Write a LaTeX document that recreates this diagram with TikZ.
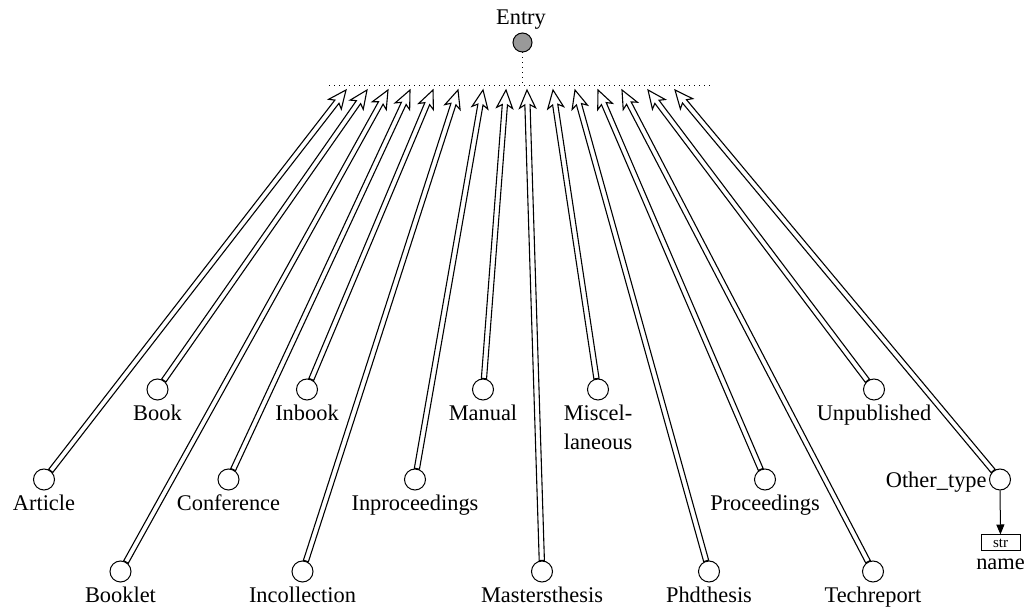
\documentclass[tikz,border=0pt]{standalone}
\usepackage{fontspec}
\setmainfont{Liberation Serif}
\usetikzlibrary{calc,arrows.meta}
\definecolor{entrygray}{RGB}{153,153,153}
\newcommand\isaarrow[2]{%
  \draw[isaline] let \p1=(#1.center), \p2=(#2), \n1={atan2(\y2-\y1,\x2-\x1)} in
    (#2) -- ([shift={(\n1+204:9.85pt)}]#2)
    -- ([shift={(\n1+180:7.4pt)},shift={(\n1-90:1.3pt)}]#2)
    -- ([shift={(\n1-90:1.3pt)}]#1.\n1)
    -- ([shift={(\n1+90:1.3pt)}]#1.\n1)
    -- ([shift={(\n1+180:7.4pt)},shift={(\n1+90:1.3pt)}]#2)
    -- ([shift={(\n1+156:9.85pt)}]#2)
    -- cycle;}
\begin{document}
\begin{tikzpicture}[x=0.5pt,y=-0.5pt,
  cls/.style={circle,draw,line width=0.5pt,minimum size=10.5pt,inner sep=0pt},
  lab/.style={anchor=base,inner sep=0pt,font=\fontsize{11.2}{14.5}\selectfont},
  isaline/.style={line width=0.55pt,line join=miter,fill=white},
  dotline/.style={dotted,line width=0.5pt}]
\useasboundingbox (0,0) rectangle (1029,608);

% Entry
\node[circle,draw,line width=0.5pt,fill=entrygray,minimum size=9.5pt,inner sep=0pt] (entry) at (522.5,42.5) {};
\node[lab] (entry-l) at (521,24.5) {Entry};
\coordinate (hl) at (329,86);
\coordinate (hr) at (713,86);
\coordinate (hm) at (522.5,86);
\draw[dotline] (entry) -- (hm);
\draw[dotline] (hl) -- (hr);

% tips
\coordinate (t1) at (346,90);
\coordinate (t2) at (367,90);
\coordinate (t3) at (388,90);
\coordinate (t4) at (410,90);
\coordinate (t5) at (433,90);
\coordinate (t6) at (458,90);
\coordinate (t7) at (483,90);
\coordinate (t8) at (506,90);
\coordinate (t9) at (527,90);
\coordinate (t10) at (553,90);
\coordinate (t11) at (575,90);
\coordinate (t12) at (598,90);
\coordinate (t13) at (622,90);
\coordinate (t14) at (648,90);
\coordinate (t15) at (675,90);

% nodes
\node[cls] (article) at (44,479.5) {};
\node[cls] (book) at (157.5,389.5) {};
\node[cls] (booklet) at (120.5,571.5) {};
\node[cls] (conference) at (228.5,479.5) {};
\node[cls] (inbook) at (307,389.5) {};
\node[cls] (incollection) at (302.5,571.5) {};
\node[cls] (inproceedings) at (415,479.5) {};
\node[cls] (manual) at (483,389.5) {};
\node[cls] (masters) at (542,571.5) {};
\node[cls] (misc) at (598,389.5) {};
\node[cls] (phd) at (709,571.5) {};
\node[cls] (proceedings) at (765,479.5) {};
\node[cls] (techreport) at (873,571.5) {};
\node[cls] (unpublished) at (874,389.5) {};
\node[cls] (other) at (1000,479.5) {};

% labels
\node[lab] (article-l) at (44,510.5) {Article};
\node[lab] (book-l) at (157.5,420.5) {Book};
\node[lab] (booklet-l) at (120.5,602.5) {Booklet};
\node[lab] (conference-l) at (228.5,510.5) {Conference};
\node[lab] (inbook-l) at (307,420.5) {Inbook};
\node[lab] (incollection-l) at (302.5,602.5) {Incollection};
\node[lab] (inproceedings-l) at (415,510.5) {Inproceedings};
\node[lab] (manual-l) at (483,420.5) {Manual};
\node[lab] (masters-l) at (542,602.5) {Mastersthesis};
\node[lab] (misc-l) at (598,420.5) {Miscel-};
\node[lab] (misc-l2) at (598,450) {laneous};
\node[lab] (phd-l) at (709,602.5) {Phdthesis};
\node[lab] (proceedings-l) at (765,510.5) {Proceedings};
\node[lab] (techreport-l) at (873,602.5) {Techreport};
\node[lab] (unpublished-l) at (874,420.5) {Unpublished};
\node[lab,anchor=base east] (other-l) at (987,488) {Other\_type};

% arrows
\isaarrow{article}{t1}
\isaarrow{book}{t2}
\isaarrow{booklet}{t3}
\isaarrow{conference}{t4}
\isaarrow{inbook}{t5}
\isaarrow{incollection}{t6}
\isaarrow{inproceedings}{t7}
\isaarrow{manual}{t8}
\isaarrow{masters}{t9}
\isaarrow{misc}{t10}
\isaarrow{phd}{t11}
\isaarrow{proceedings}{t12}
\isaarrow{techreport}{t13}
\isaarrow{unpublished}{t14}
\isaarrow{other}{t15}

% attribute
\node[draw,line width=0.5pt,minimum width=19.5pt,minimum height=8pt,inner sep=0pt,font=\fontsize{7.5}{9}\selectfont] (strbox) at (1000.5,543) {str};
\node[lab] (name-l) at (1000.5,570) {name};
\draw[line width=0.5pt,-{Triangle[length=5pt,width=4pt]}] (other) -- (strbox);
\end{tikzpicture}
\end{document}
